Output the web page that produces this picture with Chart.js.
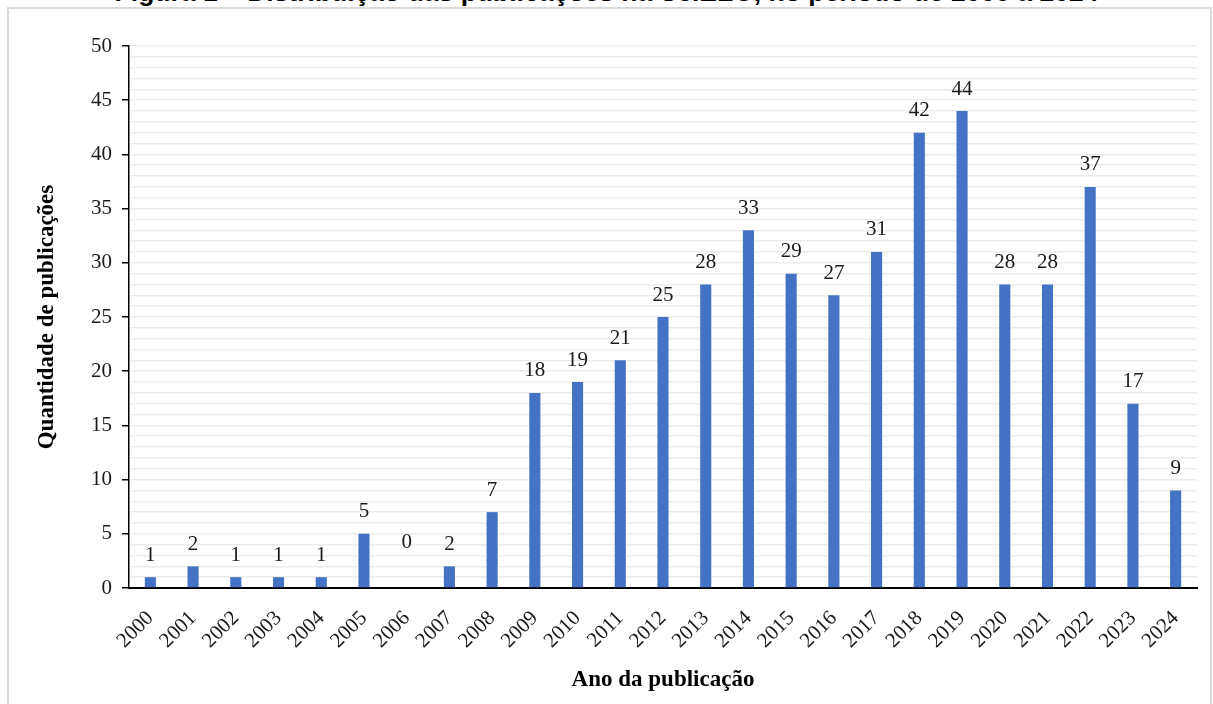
<!DOCTYPE html>
<html>
<head>
<meta charset="utf-8">
<script src="https://cdn.jsdelivr.net/npm/chart.js@4"></script>
<style>
  html, body { margin: 0; padding: 0; background: #fff; }
  #wrap { position: relative; width: 1213px; height: 704px; overflow: hidden; }
  #frame { position: absolute; left: 7px; top: 7px; width: 1201px; height: 720px;
           border: 2px solid #d9d9d9; border-bottom: none; }
  #title { position: absolute; left: 0; width: 1213px; top: -23px; text-align: center;
           font: bold 26.5px "Liberation Sans", Arial, sans-serif; color: #000; white-space: nowrap; }
  canvas { position: absolute; left: 0; top: 0; }
</style>
</head>
<body>
<div id="wrap">
  <div id="frame"></div>
  <div id="title">Figura 1 – Distribuição das publicações na SciELO, no período de 2000 a 2024</div>
  <canvas id="chart" width="1213" height="704"></canvas>
</div>
<script>
// anos e quantidade de publicações
const years = ['2000', '2001', '2002', '2003', '2004', '2005', '2006', '2007', '2008', '2009',
    '2010', '2011', '2012', '2013', '2014', '2015', '2016', '2017', '2018', '2019',
    '2020', '2021', '2022', '2023', '2024'];
const publications = [1, 2, 1, 1, 1, 5, 0, 2, 7, 18, 19, 21, 25, 28, 33, 29, 27, 31, 42, 44, 28, 28, 37, 17, 9];

const serif = '"Liberation Serif", "Times New Roman", serif';

// rótulos de dados acima das barras (o Excel sobe um pouco o rótulo do zero)
const valueLabels = {
    id: 'valueLabels',
    afterDatasetsDraw(chart) {
        const ctx = chart.ctx;
        const meta = chart.getDatasetMeta(0);
        ctx.save();
        ctx.font = '21px ' + serif;
        ctx.fillStyle = '#1a1a1a';
        ctx.textAlign = 'center';
        ctx.textBaseline = 'middle';
        meta.data.forEach((bar, i) => {
            const gap = publications[i] === 0 ? 46 : 22;
            ctx.fillText(String(publications[i]), bar.x, bar.y - gap);
        });
        ctx.restore();
    }
};

new Chart(document.getElementById('chart').getContext('2d'), {
    type: 'bar',
    data: {
        labels: years,
        datasets: [{
            data: publications,
            backgroundColor: '#4472C4',
            barPercentage: 0.26,
            categoryPercentage: 1
        }]
    },
    plugins: [valueLabels],
    options: {
        responsive: false,
        animation: false,
        layout: { padding: { left: 0, right: 16, top: 46, bottom: 0 } },
        plugins: { legend: { display: false }, tooltip: { enabled: false } },
        scales: {
            x: {
                offset: true,
                grid: { display: false, drawTicks: false },
                border: { display: true, color: '#000', width: 2 },
                ticks: {
                    color: '#1a1a1a',
                    font: { family: serif, size: 21 },
                    minRotation: 45, maxRotation: 45,
                    autoSkip: false,
                    padding: 18
                },
                title: {
                    display: true,
                    text: 'Ano da publicação',
                    color: '#000',
                    font: { family: serif, size: 23, weight: 'bold' },
                    padding: { top: 0, bottom: 10 }
                },
                afterFit(scale) { scale.height = 116; }
            },
            y: {
                min: 0, max: 50,
                grid: {
                    color: '#ebebeb',
                    lineWidth: 1.5,
                    tickLength: 7,
                    tickColor: (c) => (c.tick && c.tick.value % 5 === 0) ? '#000' : 'rgba(0,0,0,0)',
                    tickWidth: 1.5
                },
                border: { display: true, color: '#000', width: 1.5 },
                ticks: {
                    stepSize: 1,
                    autoSkip: false,
                    color: '#1a1a1a',
                    font: { family: serif, size: 21 },
                    padding: 10,
                    callback: (v) => (v % 5 === 0 ? v : '')
                },
                title: {
                    display: true,
                    text: 'Quantidade de publicações',
                    color: '#000',
                    font: { family: serif, size: 23, weight: 'bold' },
                    padding: { top: 33, bottom: 0 }
                },
                afterFit(scale) { scale.width = 129; }
            }
        }
    }
});
</script>
</body>
</html>
